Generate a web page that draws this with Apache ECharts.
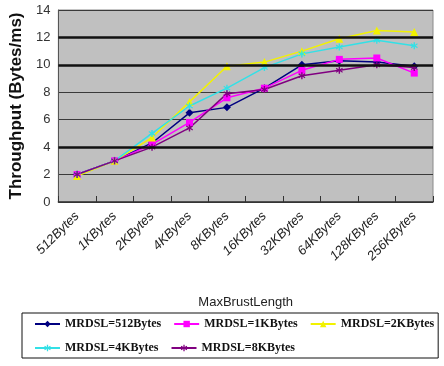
<!DOCTYPE html>
<html>
<head>
<meta charset="utf-8">
<script src="https://cdn.jsdelivr.net/npm/echarts@6/dist/echarts.min.js"></script>
<style>
  html, body { margin: 0; padding: 0; background: #fff; }
  #chart { width: 444px; height: 366px; }
</style>
</head>
<body>
<div id="chart"></div>
<script>
var categories = ['512Bytes', '1KBytes', '2KBytes', '4KBytes', '8KBytes',
                  '16KBytes', '32KBytes', '64KBytes', '128KBytes', '256KBytes'];
var yTicks = [0, 2, 4, 6, 8, 10, 12, 14];
var thickLines = [4, 10, 12];

var mrdsl512 = [2.0, 3.0, 4.3, 6.5, 6.9, 8.3, 10.0, 10.3, 10.2, 9.9];
var mrdsl1k  = [2.0, 3.0, 4.2, 5.8, 7.6, 8.3, 9.6, 10.4, 10.5, 9.4];
var mrdsl2k  = [1.9, 3.0, 4.7, 7.3, 9.9, 10.2, 11.0, 11.9, 12.5, 12.4];
var mrdsl4k  = [2.0, 3.0, 5.0, 7.0, 8.3, 9.8, 10.8, 11.3, 11.8, 11.4];
var mrdsl8k  = [2.0, 3.0, 4.0, 5.4, 7.9, 8.2, 9.2, 9.6, 10.0, 9.8];

var seriesNames = ['MRDSL=512Bytes', 'MRDSL=1KBytes', 'MRDSL=2KBytes', 'MRDSL=4KBytes', 'MRDSL=8KBytes'];

// asterisk-like marker for the 4K and 8K series
var starPath = 'path://M4,0 L6,0 L6,3.6 L9.2,1.4 L10,3 L6.8,5 L10,7 L9.2,8.6 L6,6.4 L6,10 L4,10 L4,6.4 L0.8,8.6 L0,7 L3.2,5 L0,3 L0.8,1.4 L4,3.6 Z';

function makeSeries(name, data, color, symbol, size) {
    return {
        name: name,
        type: 'line',
        data: data,
        symbol: symbol,
        symbolSize: size,
        lineStyle: { color: color, width: 1.5 },
        itemStyle: { color: color },
        animation: false
    };
}

var chart = echarts.init(document.getElementById('chart'));

var series = [
    makeSeries(seriesNames[0], mrdsl512, '#000080', 'diamond', 8),
    makeSeries(seriesNames[1], mrdsl1k, '#ff00ff', 'rect', 7),
    makeSeries(seriesNames[2], mrdsl2k, '#f2f200', 'triangle', 8),
    makeSeries(seriesNames[3], mrdsl4k, '#33e0e6', starPath, 7),
    makeSeries(seriesNames[4], mrdsl8k, '#800080', starPath, 7)
];

// heavier grid lines as in the original picture
series[0].markLine = {
    silent: true,
    symbol: 'none',
    label: { show: false },
    lineStyle: { color: '#111', width: 2.5, type: 'solid' },
    data: thickLines.map(function (v) { return { yAxis: v }; })
};
series[0].z = 1;

var option = {
    backgroundColor: '#fff',
    grid: {
        left: 55,
        right: 11,
        top: 10,
        bottom: 164,
        show: true,
        backgroundColor: '#c0c0c0',
        borderColor: '#8a8a8a',
        borderWidth: 1
    },
    xAxis: {
        type: 'category',
        data: categories,
        boundaryGap: true,
        name: 'MaxBrustLength',
        nameLocation: 'middle',
        nameGap: 94,
        nameTextStyle: { fontFamily: 'Liberation Sans Narrow, Liberation Sans', fontSize: 13, color: '#222' },
        axisLine: { lineStyle: { color: '#333', width: 1.5 } },
        axisTick: { show: true, inside: true, length: 6, lineStyle: { color: '#333' } },
        axisLabel: {
            rotate: 45,
            margin: 12,
            interval: 0,
            fontFamily: 'Liberation Sans Narrow, Liberation Sans',
            fontStyle: 'italic',
            fontSize: 13,
            color: '#222'
        },
        splitLine: { show: false }
    },
    yAxis: {
        type: 'value',
        min: yTicks[0],
        max: yTicks[yTicks.length - 1],
        interval: 2,
        name: 'Throughput (Bytes/ms)',
        nameLocation: 'middle',
        nameRotate: 90,
        nameGap: 30,
        nameTextStyle: {
            fontFamily: 'Liberation Sans',
            fontWeight: 'bold',
            fontSize: 17,
            color: '#111'
        },
        axisLine: { show: true, lineStyle: { color: '#555' } },
        axisTick: { show: false },
        axisLabel: {
            margin: 8,
            fontFamily: 'Liberation Sans Narrow, Liberation Sans',
            fontSize: 13,
            color: '#333'
        },
        splitLine: { show: true, lineStyle: { color: '#3a3a3a', width: 1 } }
    },
    legend: {
        data: seriesNames,
        left: 22,
        top: 313,
        width: 412,
        orient: 'horizontal',
        padding: [5, 4, 4, 12],
        itemGap: 12,
        itemWidth: 25,
        itemHeight: 8,
        borderColor: '#111',
        borderWidth: 1,
        textStyle: {
            fontFamily: 'Liberation Serif',
            fontWeight: 'bold',
            fontSize: 12,
            color: '#111'
        }
    },
    series: series
};

chart.setOption(option);
</script>
</body>
</html>
